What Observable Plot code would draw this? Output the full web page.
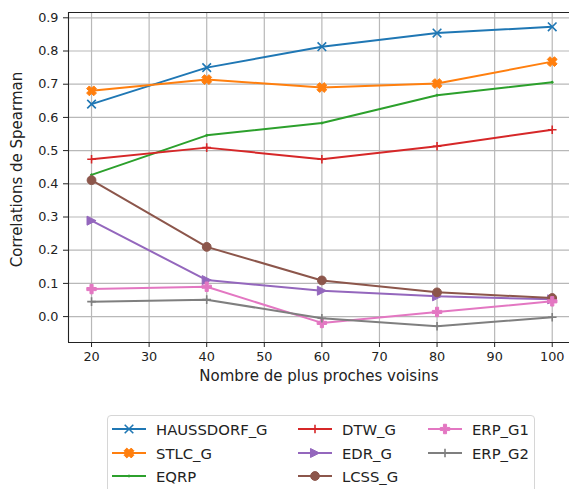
<!DOCTYPE html>
<html><head><meta charset="utf-8">
<script src="https://cdn.jsdelivr.net/npm/d3@7"></script>
<script src="https://cdn.jsdelivr.net/npm/@observablehq/plot@0.6"></script>
<style>
body{margin:0;background:#fff;font-family:"DejaVu Sans",sans-serif;}
#wrap{position:relative;width:569px;height:489px;overflow:hidden;}
#chart{position:absolute;left:0;top:0;}
#legend{position:absolute;left:107px;top:415px;width:428px;height:95px;border:1px solid #d6d6d6;border-radius:4px;box-sizing:border-box;background:#fff;}
.item{position:absolute;height:20px;display:flex;align-items:center;font-size:14.8px;color:#222;white-space:nowrap;}
.item svg{margin-right:10px;overflow:visible;}
</style></head><body><div id="wrap"><div id="chart"></div><div id="legend"></div></div>
<script>
// ---- data ----
const neighbors = [20, 40, 60, 80, 100];
const seriesNames = ["HAUSSDORF_G", "STLC_G", "EQRP", "DTW_G", "EDR_G", "LCSS_G", "ERP_G1", "ERP_G2"];
const haussdorfG = [0.640, 0.750, 0.813, 0.854, 0.873];
const stlcG      = [0.680, 0.714, 0.690, 0.702, 0.768];
const eqrp       = [0.427, 0.546, 0.583, 0.667, 0.706];
const dtwG       = [0.474, 0.509, 0.474, 0.513, 0.563];
const edrG       = [0.289, 0.110, 0.078, 0.061, 0.052];
const lcssG      = [0.411, 0.210, 0.109, 0.073, 0.056];
const erpG1      = [0.083, 0.090, -0.019, 0.014, 0.046];
const erpG2      = [0.045, 0.051, -0.005, -0.029, -0.002];
const seriesColors = ["#1f77b4", "#ff7f0e", "#2ca02c", "#d62728", "#9467bd", "#8c564b", "#e377c2", "#7f7f7f"];
const seriesMarkers = ["x", "X", "point", "plus", "triangleRight", "circle", "P", "plus"];
const xTicks = [20, 30, 40, 50, 60, 70, 80, 90, 100];
const yTicks = [0.0, 0.1, 0.2, 0.3, 0.4, 0.5, 0.6, 0.7, 0.8, 0.9];
const xLabel = "Nombre de plus proches voisins";
const yLabel = "Correlations de Spearman";

const seriesValues = [haussdorfG, stlcG, eqrp, dtwG, edrG, lcssG, erpG1, erpG2];

// ---- marker symbols ----
const rad = s => Math.sqrt(s / Math.PI);
function poly(c, pts, ang) {
  const ca = Math.cos(ang), sa = Math.sin(ang);
  pts.forEach(([x, y], i) => {
    const X = x * ca - y * sa, Y = x * sa + y * ca;
    i ? c.lineTo(X, Y) : c.moveTo(X, Y);
  });
  c.closePath();
}
function plusPts(r, t) {
  return [[t, r], [t, t], [r, t], [r, -t], [t, -t], [t, -r], [-t, -r], [-t, -t], [-r, -t], [-r, t], [-t, t], [-t, r]];
}
const symbols = {
  x: {draw(c, s) { const r = rad(s); c.moveTo(-r, -r); c.lineTo(r, r); c.moveTo(-r, r); c.lineTo(r, -r); }},
  X: {draw(c, s) { const r = rad(s) * 1.2; poly(c, plusPts(r, r * 0.38), Math.PI / 4); }},
  point: {draw(c, s) { c.moveTo(1, 0); c.arc(0, 0, 1, 0, 2 * Math.PI); }},
  plus: {draw(c, s) { const r = rad(s); c.moveTo(-r, 0); c.lineTo(r, 0); c.moveTo(0, -r); c.lineTo(0, r); }},
  triangleRight: {draw(c, s) { const r = rad(s) * 1.05; c.moveTo(r, 0); c.lineTo(-r, r); c.lineTo(-r, -r); c.closePath(); }},
  circle: {draw(c, s) { const r = rad(s); c.moveTo(r, 0); c.arc(0, 0, r, 0, 2 * Math.PI); }},
  P: {draw(c, s) { const r = rad(s) * 1.1; poly(c, plusPts(r, r * 0.33), 0); }}
};
const filled = {x: false, X: true, point: true, plus: false, triangleRight: true, circle: true, P: true};
const markerR = {x: 4.3, X: 4.2, point: 1, plus: 4.3, triangleRight: 4.3, circle: 4.4, P: 4.3};

// ---- build table ----
const rows = [];
seriesNames.forEach((name, i) => {
  neighbors.forEach((n, j) => rows.push({series: name, k: n, v: seriesValues[i][j]}));
});

const seriesMarks = [];
seriesNames.forEach((name, i) => {
  const d = rows.filter(r => r.series === name);
  const m = seriesMarkers[i];
  const col = seriesColors[i];
  seriesMarks.push(Plot.line(d, {x: "k", y: "v", stroke: col, strokeWidth: 2}));
  seriesMarks.push(Plot.dot(d, {
    x: "k", y: "v", symbol: symbols[m], r: markerR[m],
    fill: filled[m] ? col : "none", stroke: col, strokeWidth: filled[m] ? 1 : 1.6
  }));
});

const yMin = -0.078, yMax = 0.916;
const chart = Plot.plot({
  width: 569, height: 400,
  marginLeft: 68, marginRight: 0, marginTop: 12, marginBottom: 58,
  x: {domain: [16, 103]},
  y: {domain: [yMin, yMax]},
  style: {fontFamily: "DejaVu Sans, sans-serif", fontSize: "12.8px", color: "#222", background: "#fff"},
  marks: [
    Plot.gridX(xTicks, {stroke: "#b8b8b8", strokeOpacity: 1, strokeWidth: 1.2}),
    Plot.gridY(yTicks, {stroke: "#b8b8b8", strokeOpacity: 1, strokeWidth: 1.2}),
    ...seriesMarks,
    Plot.ruleX([16], {stroke: "#222", strokeWidth: 1.1}),
    Plot.ruleY([yMin, yMax], {stroke: "#222", strokeWidth: 1.1}),
    Plot.axisX({ticks: xTicks, tickSize: 5, tickPadding: 4, label: null, fontSize: 12.8}),
    Plot.axisY({ticks: yTicks, tickFormat: d3.format(".1f"), tickSize: 5, tickPadding: 5, label: null, fontSize: 12.8}),
    Plot.text([xLabel], {text: d => d, frameAnchor: "bottom", dy: 38, fontSize: 15, textAnchor: "middle"}),
    Plot.text([yLabel], {text: d => d, frameAnchor: "left", dx: -51, dy: -8, rotate: -90, fontSize: 15, textAnchor: "middle"})
  ]
});
document.getElementById("chart").appendChild(chart);

// ---- legend ----
const legend = d3.select("#legend");
const colLeft = [4, 190, 320];
const rowTop = [3, 27, 50];
seriesNames.forEach((name, i) => {
  const col = Math.floor(i / 3), row = i % 3;
  const item = legend.append("div").attr("class", "item")
    .style("left", colLeft[col] + "px").style("top", rowTop[row] + "px");
  const svg = item.append("svg").attr("width", 34).attr("height", 20);
  svg.append("line").attr("x1", 0).attr("x2", 34).attr("y1", 10).attr("y2", 10)
    .attr("stroke", seriesColors[i]).attr("stroke-width", 2);
  const m = seriesMarkers[i];
  const p = d3.path();
  symbols[m].draw(p, Math.PI * markerR[m] * markerR[m]);
  svg.append("path").attr("d", p.toString()).attr("transform", "translate(17,10)")
    .attr("fill", filled[m] ? seriesColors[i] : "none").attr("stroke", seriesColors[i])
    .attr("stroke-width", filled[m] ? 1 : 1.6);
  item.append("span").text(name);
});
</script></body></html>
